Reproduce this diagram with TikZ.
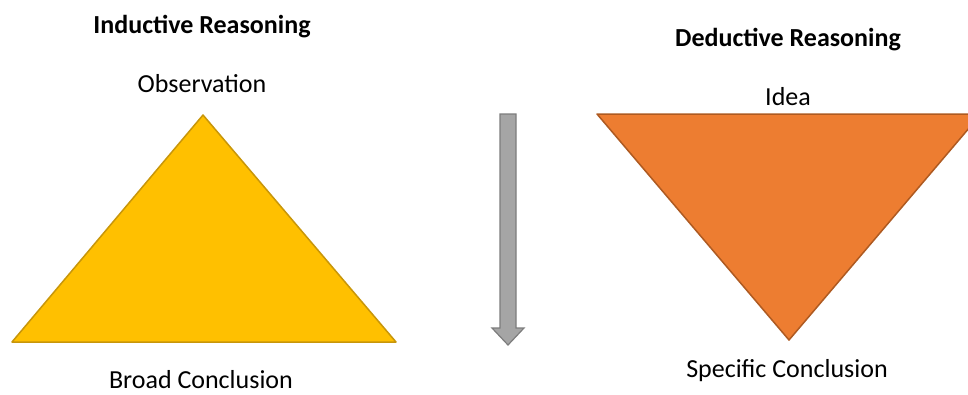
\documentclass[tikz,border=0pt]{standalone}
\usepackage{fontspec}
\setmainfont{Carlito}
\usetikzlibrary{positioning}
\definecolor{indyellow}{RGB}{255,192,0}
\definecolor{indedge}{RGB}{200,150,10}
\definecolor{dedorange}{RGB}{237,125,49}
\definecolor{dededge}{RGB}{174,90,33}
\definecolor{arrowgray}{RGB}{165,165,165}
\definecolor{arrowedge}{RGB}{125,125,125}

\begin{document}
\begin{tikzpicture}[
      x=1pt, y=-1pt,
      lbl/.style={font=\fontsize{26}{30}\selectfont, inner sep=0pt},
      ttl/.style={font=\fontsize{26}{30}\selectfont\bfseries, inner sep=0pt},
    ]
      \useasboundingbox (0,0) rectangle (968,394);
      \clip (0,0) rectangle (968,394);
      % inductive triangle
      \draw[indedge, line width=1.5pt, fill=indyellow, line join=round] (203,115) -- (396,342) -- (12,342) -- cycle;
      \node[ttl] (indtitle) at (202,27) {Inductive Reasoning};
      \node[lbl] (obs) at (202,84) {Observation};
      \node[lbl, anchor=base, text depth=0pt] (broad) at (201,388) {Broad Conclusion};
      % deductive triangle
      \draw[dededge, line width=1.5pt, fill=dedorange, line join=round] (597,114) -- (981,114) -- (789,340) -- cycle;
      \node[ttl] (dedtitle) at (788,40) {Deductive Reasoning};
      \node[lbl] (idea) at (788,97) {Idea};
      \node[lbl] (spec) at (787,371) {Specific Conclusion};
      % direction arrow
      \draw[arrowedge, line width=1.2pt, fill=arrowgray] (500,114) -- (516,114) -- (516,328) -- (524,328)
        -- (508,345) -- (492,328) -- (500,328) -- cycle;
    \end{tikzpicture}
\end{document}
